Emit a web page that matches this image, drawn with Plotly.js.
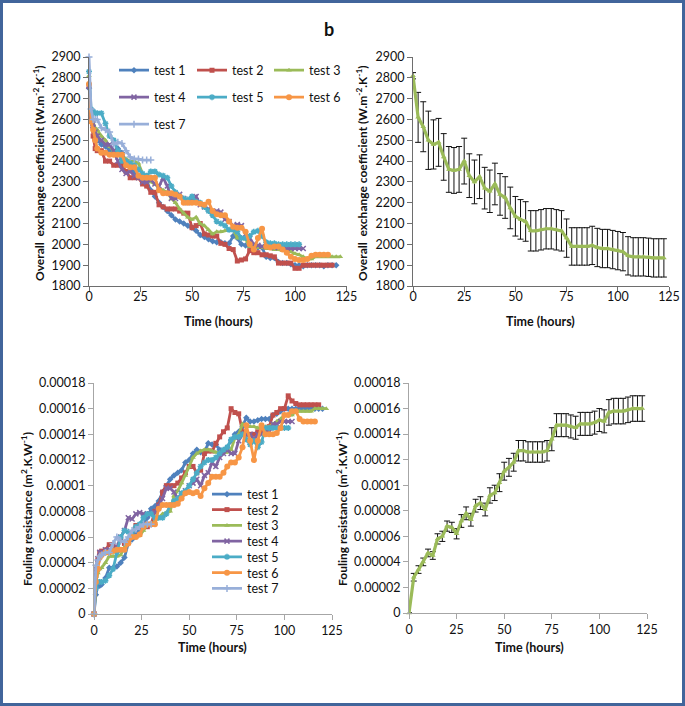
<!DOCTYPE html>
<html><head><meta charset="utf-8">
<script src="https://cdn.plot.ly/plotly-3.0.1.min.js"></script>
<style>
html,body{margin:0;padding:0;background:#fff;}
#wrap{position:relative;width:685px;height:706px;}
#chart{width:685px;height:706px;}
#frame{position:absolute;left:0;top:0;width:685px;height:706px;box-sizing:border-box;border:3px solid #41659b;pointer-events:none;}
</style>
</head><body>
<div id="wrap"><div id="chart"></div><div id="frame"></div></div>
<script>
// ---------- DATA ----------
const hoursFine = [0,1,2,3,4,6,8,10,12,14,16,18,20,22,24,26,28,30,32,34,36,38,40,42,44,46,48,50,52,54,56,58,60,62,64,66,68,70,72,74,76,78,80,82,84,86,88,90,92,94,96,98,100,102,104,106,108,110,112,114,116,118,120,122];
const hoursMean = [0,2.5,5,7.5,10,12.5,15,17.5,20,22.5,25,27.5,30,32.5,35,37.5,40,42.5,45,47.5,50,52.5,55,57.5,60,62.5,65,67.5,70,72.5,75,77.5,80,82.5,85,87.5,90,92.5,95,97.5,100,102.5,105,107.5,110,112.5,115,117.5,120,122.5];
const testNames = ['test 1','test 2','test 3','test 4','test 5','test 6','test 7'];

// Overall exchange coefficient (W.m-2.K-1)
const test1U = [2750,2620,2560,2520,2500, 2480,2470,2450,2440,2460,2440,2400,2370,2350,2330, 2320,2300,2260,2230,2200,2180,2160,2140,2120,2110, 2100,2090,2080,2065,2045,2035,2025,2015,2010,2010, 2005,2005,2040,2030,2000,1995,1990,1990,1985,1985, 1940,1935,1935,1915,1910,1910,1905,1900,1900,1895, 1900,1900,1900,1900,1895,1900,1900,1900];
const test2U = [2760,2600,2520,2460,2450, 2450,2400,2400,2380,2380,2380,2350,2320,2320,2320, 2290,2280,2250,2250,2190,2180,2170,2170,2170,2160, 2150,2150,2080,2090,2100,2050,2045,2040,2040,2005, 2000,1980,1975,1920,1925,1930,1970,1960,1960,1950, 1950,1945,1940,1910,1910,1910,1910,1885,1885,1900, 1900,1900,1900,1900,1900,1900,1900];
const test3U = [2810,2620,2580,2560,2550, 2520,2500,2470,2450,2440,2420,2410,2400,2400,2390, 2340,2320,2300,2290,2270,2260,2250,2220,2200,2170, 2150,2130,2120,2130,2100,2090,2070,2050,2060,2060, 2065,2070,2070,2030,2030,2025,1990,1990,1985,1985, 1980,1980,1975,1975,1970,1970,1965,1955,1950,1940, 1930,1930,1940,1940,1940,1940,1940,1940,1940];
const test4U = [2760,2620,2580,2540,2520, 2500,2480,2480,2450,2400,2360,2340,2350,2330,2320, 2300,2300,2310,2290,2280,2320,2280,2220,2220,2240, 2220,2200,2210,2230,2190,2180,2170,2150,2160,2155, 2120,2110,2090,2095,2090,2050,2030,2000,1995,1990, 1990,1990,1985,1985,1985,1980,1980,1980,1980,1980];
const test5U = [2830,2650,2640,2630,2630, 2630,2580,2520,2500,2450,2400,2400,2390,2380,2360, 2340,2330,2350,2350,2335,2330,2320,2280,2250,2230, 2220,2215,2230,2205,2200,2180,2160,2140,2110,2100, 2090,2070,2070,2060,2030,2030,2040,2060,2065,2040, 2010,2005,2005,2000,2000,2000,2000,2000,2000];
const test6U = [2770,2590,2550,2500,2460, 2440,2440,2430,2430,2430,2430,2380,2370,2370,2330, 2320,2320,2320,2320,2260,2245,2245,2245,2240,2230, 2200,2200,2200,2200,2195,2190,2205,2160,2145,2140, 2140,2110,2085,2080,2080,2060,2000,1975,2030,2075, 1990,1985,1990,1990,1975,1960,1940,1930,1925,1925, 1930,1945,1950,1950,1950,1950];
const test7U = [2900,2650,2600,2600,2600, 2560,2550,2540,2480,2490,2485,2450,2420,2410,2410, 2405,2405,2405];

// Fouling resistance (m2.K.W-1)
const test1R = [0,1.5e-5,2.2e-5,2.2e-5,2.3e-5, 2.8e-5,3.6e-5,3.6e-5,3.7e-5,4.0e-5,4.4e-5,5.5e-5,5.8e-5,6.2e-5,6.6e-5, 7.0e-5,7.5e-5,8.2e-5,8.4e-5,8.8e-5,9.5e-5,10.0e-5,10.5e-5,10.8e-5,11.0e-5, 11.2e-5,11.8e-5,12.0e-5,12.5e-5,12.8e-5,12.6e-5,12.6e-5,13.3e-5,13.2e-5,13.2e-5, 12.8e-5,12.6e-5,13.0e-5,13.5e-5,14.0e-5,14.2e-5,14.6e-5,15.3e-5,15.0e-5,15.0e-5, 15.1e-5,15.2e-5,15.2e-5,15.2e-5,15.5e-5,15.6e-5,15.8e-5,16.0e-5,16.0e-5,16.0e-5, 16.0e-5,16.0e-5,16.0e-5,16.0e-5,16.1e-5,16.0e-5,16.0e-5,16.0e-5];
const test2R = [0,3.0e-5,4.2e-5,4.8e-5,4.9e-5, 5.0e-5,5.4e-5,5.4e-5,5.0e-5,5.8e-5,5.5e-5,5.6e-5,6.2e-5,6.9e-5,6.8e-5, 6.8e-5,6.8e-5,7.0e-5,8.0e-5,8.5e-5,9.5e-5,10.0e-5,10.0e-5,10.0e-5,10.2e-5, 10.6e-5,11.0e-5,11.5e-5,11.5e-5,11.0e-5,11.2e-5,12.5e-5,12.7e-5,12.7e-5,13.3e-5, 13.8e-5,14.2e-5,14.5e-5,16.0e-5,15.7e-5,15.6e-5,14.2e-5,14.0e-5,14.0e-5,14.0e-5, 14.2e-5,14.2e-5,14.4e-5,14.6e-5,15.5e-5,15.7e-5,16.0e-5,16.0e-5,17.0e-5,16.6e-5, 16.4e-5,16.3e-5,16.3e-5,16.3e-5,16.3e-5,16.3e-5,16.3e-5];
const test3R = [0,2.5e-5,3.2e-5,3.5e-5,3.6e-5, 4.0e-5,4.5e-5,4.5e-5,4.5e-5,4.6e-5,5.2e-5,5.6e-5,6.0e-5,6.0e-5,6.1e-5, 6.5e-5,7.0e-5,7.0e-5,7.2e-5,7.5e-5,7.8e-5,7.9e-5,8.0e-5,9.2e-5,9.6e-5, 10.2e-5,10.8e-5,11.5e-5,12.2e-5,12.5e-5,12.7e-5,12.8e-5,12.8e-5,12.7e-5,12.6e-5, 12.6e-5,12.6e-5,12.6e-5,12.8e-5,13.7e-5,14.0e-5,14.8e-5,14.7e-5,14.6e-5,14.6e-5, 14.5e-5,14.5e-5,14.6e-5,14.6e-5,14.8e-5,15.0e-5,15.2e-5,15.5e-5,15.5e-5,15.5e-5, 15.8e-5,15.8e-5,15.8e-5,15.8e-5,15.8e-5,16.0e-5,16.0e-5,16.0e-5,16.0e-5];
const test4R = [0,3.5e-5,4.3e-5,4.8e-5,4.8e-5, 5.0e-5,5.0e-5,5.0e-5,5.2e-5,6.0e-5,6.5e-5,7.5e-5,7.4e-5,7.8e-5,7.9e-5, 7.8e-5,7.8e-5,7.8e-5,7.9e-5,8.4e-5,9.0e-5,9.8e-5,9.8e-5,9.5e-5,9.0e-5, 9.4e-5,9.6e-5,10.0e-5,10.2e-5,10.5e-5,10.0e-5,10.8e-5,11.0e-5,11.8e-5,11.5e-5, 12.2e-5,12.5e-5,12.8e-5,12.5e-5,12.5e-5,13.5e-5,14.0e-5,14.0e-5,14.0e-5,13.6e-5, 14.0e-5,14.0e-5,14.1e-5,14.2e-5,14.8e-5,14.8e-5,15.0e-5,15.0e-5,15.0e-5,15.0e-5];
const test5R = [0,2.0e-5,2.5e-5,2.5e-5,2.5e-5, 2.6e-5,3.0e-5,3.5e-5,4.8e-5,6.0e-5,6.5e-5,6.4e-5,6.2e-5,6.8e-5,7.0e-5, 7.5e-5,7.8e-5,7.8e-5,7.5e-5,7.5e-5,7.5e-5,7.8e-5,8.5e-5,8.8e-5,9.0e-5, 9.4e-5,9.6e-5,10.0e-5,10.5e-5,11.0e-5,11.5e-5,11.8e-5,12.0e-5,12.0e-5,12.2e-5, 12.5e-5,12.8e-5,13.0e-5,13.6e-5,13.8e-5,13.8e-5,14.0e-5,13.6e-5,13.2e-5,13.5e-5, 13.0e-5,13.4e-5,14.5e-5,14.5e-5,14.5e-5,14.5e-5,14.5e-5,14.5e-5,14.5e-5];
const test6R = [0,2.5e-5,3.5e-5,4.4e-5,4.6e-5, 4.8e-5,4.8e-5,4.9e-5,5.0e-5,5.0e-5,5.0e-5,5.5e-5,6.0e-5,6.0e-5,6.2e-5, 6.8e-5,7.0e-5,7.0e-5,7.0e-5,8.2e-5,8.5e-5,8.5e-5,8.5e-5,8.5e-5,8.6e-5, 9.0e-5,9.4e-5,9.5e-5,9.4e-5,9.5e-5,9.2e-5,9.8e-5,10.2e-5,10.7e-5,10.7e-5, 10.7e-5,11.0e-5,11.5e-5,11.8e-5,11.8e-5,12.2e-5,13.0e-5,14.7e-5,13.5e-5,12.0e-5, 13.5e-5,14.7e-5,14.0e-5,14.0e-5,14.0e-5,14.1e-5,14.5e-5,15.5e-5,15.5e-5,15.8e-5, 15.8e-5,15.2e-5,15.0e-5,15.0e-5,15.0e-5,15.0e-5];
const test7R = [0,3.8e-5,4.2e-5,4.5e-5,4.6e-5, 4.8e-5,4.8e-5,5.5e-5,6.0e-5,5.7e-5,5.6e-5,6.0e-5,6.5e-5,6.6e-5,6.8e-5, 7.0e-5,7.0e-5,7.0e-5];

// Mean of the tests with standard deviation
const meanU = [2810,2610,2565,2500,2480,2490,2420,2360,2355,2360, 2400,2330,2300,2325,2270,2255,2290,2240,2225,2175, 2135,2120,2110,2065,2065,2070,2075,2075,2070,2065, 2030,1990,1990,1990,1990,1995,1985,1980,1980,1975, 1970,1965,1945,1940,1940,1940,1938,1935,1935,1935];
const meanUErr = [15,120,120,140,118,115,112,110,110,110, 110,105,105,105,100,102,100,100,100,100, 95,95,95,97,97,97,97,97,97,97, 92,90,90,90,90,92,92,92,92,92, 92,92,92,92,92,92,92,92,92,92];
const meanR = [0,2.8e-5,3.4e-5,4.0e-5,4.7e-5,4.5e-5,5.8e-5,6.0e-5,6.8e-5,6.7e-5, 6.2e-5,7.2e-5,7.8e-5,7.3e-5,8.4e-5,8.6e-5,8.1e-5,9.2e-5,9.4e-5,10.2e-5, 11.1e-5,11.4e-5,11.8e-5,12.7e-5,12.7e-5,12.6e-5,12.6e-5,12.6e-5,12.6e-5,12.7e-5, 13.6e-5,14.7e-5,14.7e-5,14.7e-5,14.6e-5,14.5e-5,14.8e-5,14.8e-5,14.8e-5,14.9e-5, 15.1e-5,15.0e-5,15.7e-5,15.8e-5,15.8e-5,15.8e-5,15.9e-5,16.0e-5,16.0e-5,16.0e-5];
const meanRErr = [0,3e-6,3e-6,3e-6,3e-6,3e-6,4e-6,4e-6,4e-6,4e-6, 4e-6,5e-6,5e-6,5e-6,5e-6,5e-6,5e-6,6e-6,6e-6,7e-6, 7e-6,7e-6,7e-6,8e-6,8e-6,8e-6,8e-6,8e-6,8e-6,8e-6, 9e-6,9e-6,9e-6,9e-6,9e-6,9e-6,9e-6,9e-6,9e-6,9e-6, 9e-6,9e-6,10e-6,10e-6,10e-6,10e-6,10e-6,10e-6,10e-6,10e-6];

// Ticks
const hourTicks = [0,25,50,75,100,125];
const coefTicks = [1800,1900,2000,2100,2200,2300,2400,2500,2600,2700,2800,2900];
const resTicks = [0,0.00002,0.00004,0.00006,0.00008,0.0001,0.00012,0.00014,0.00016,0.00018];
const resTickText = ['0','0.00002','0.00004','0.00006','0.00008','0.0001','0.00012','0.00014','0.00016','0.00018'];

// ---------- STYLE ----------
const W = 685, H = 706;
const FONT = 'Lato, "Liberation Sans", sans-serif';
const colors = ['#4F81BD','#C0504D','#9BBB59','#8064A2','#4BACC6','#F79646','#98AFD9'];
const symbols = ['diamond','square','triangle-up','x-thin-open','asterisk-open','circle','cross-thin-open'];
const msize = [5,5,5,5,5,6,5];
const seriesU = [test1U,test2U,test3U,test4U,test5U,test6U,test7U];
const seriesR = [test1R,test2R,test3R,test4R,test5R,test6R,test7R];

function px(x){return x/W;}
function py(y){return 1-y/H;}

function marker(i){
  const open = symbols[i].indexOf('open')>=0;
  return {symbol:symbols[i], size:msize[i], color:colors[i],
          line:{color:colors[i], width: open?1.5:0}};
}

const traces = [];
const legIdsTop = ['legend','legend2','legend3','legend4','legend5','legend6','legend7'];
const legIdsBot = ['legend8','legend9','legend10','legend11','legend12','legend13','legend14'];
seriesU.forEach((s,i)=>{
  traces.push({type:'scatter', mode:'lines+markers', name:testNames[i],
    x: hoursFine.slice(0,s.length), y:s, xaxis:'x', yaxis:'y',
    line:{color:colors[i], width:2.8}, marker:marker(i), cliponaxis:false,
    legend: legIdsTop[i]});
});
traces.push({type:'scatter', mode:'lines+markers', name:'mean', showlegend:false,
  x:hoursMean, y:meanU, xaxis:'x2', yaxis:'y2', cliponaxis:false,
  line:{color:'#9BBB59', width:3.2}, marker:{symbol:'triangle-up', size:5, color:'#9BBB59'},
  error_y:{type:'data', array:meanUErr, visible:true, color:'#111', thickness:1, width:3}});
seriesR.forEach((s,i)=>{
  traces.push({type:'scatter', mode:'lines+markers', name:testNames[i],
    x: hoursFine.slice(0,s.length), y:s, xaxis:'x3', yaxis:'y3',
    line:{color:colors[i], width:2.8}, marker:marker(i), cliponaxis:false,
    legend: legIdsBot[i]});
});
traces.push({type:'scatter', mode:'lines+markers', name:'mean', showlegend:false,
  x:hoursMean, y:meanR, xaxis:'x4', yaxis:'y4', cliponaxis:false,
  line:{color:'#9BBB59', width:3.2}, marker:{symbol:'triangle-up', size:5, color:'#9BBB59'},
  error_y:{type:'data', array:meanRErr, visible:true, color:'#111', thickness:1, width:3}});

function axis(extra, lc){
  return Object.assign({showline:true, linecolor:lc, linewidth:1, ticks:'outside', ticklen:5,
    tickcolor:lc, tickwidth:1, showgrid:false, zeroline:false, fixedrange:true,
    tickfont:{family:FONT, size:12.5, color:'#111'}, automargin:false}, extra);
}
const topLC = '#6e6e6e', botLC = '#a6a6a6';

function leg(left, cy){
  return {x:px(left), y:py(cy-14.5), xanchor:'left', yanchor:'top', orientation:'v',
    bgcolor:'rgba(0,0,0,0)', borderwidth:0, font:{family:FONT, size:12.5, color:'#111'}};
}

function ann(text, x, y, angle, size){
  return {text:text, xref:'paper', yref:'paper', x:px(x), y:py(y), xanchor:'center', yanchor:'middle',
    showarrow:false, textangle:angle||0, font:{family:FONT, size:size||12, color:'#111'}};
}
const yTitleTop = '<b>Overall\u00a0\u00a0exchange coefficient (W.m<sup>-2</sup>.K<sup>-1</sup>)</b>';
const yTitleBot = '<b>Fouling resistance (m<sup>2</sup>.K.W<sup>-1</sup>)</b>';

const layout = {
  width:W, height:H, margin:{l:0,r:0,t:0,b:0}, paper_bgcolor:'#fff', plot_bgcolor:'rgba(0,0,0,0)',
  font:{family:FONT, size:12, color:'#111'},
  xaxis: axis({domain:[px(89),px(346.5)], range:[0,125], tickvals:hourTicks, anchor:'y', ticklabelstandoff:-6}, topLC),
  yaxis: axis({domain:[py(286),py(57)], range:[1800,2900], tickvals:coefTicks, anchor:'x'}, topLC),
  xaxis2: axis({domain:[px(413),px(669)], range:[0,125], tickvals:hourTicks, anchor:'y2', ticklabelstandoff:-6}, topLC),
  yaxis2: axis({domain:[py(286),py(57)], range:[1800,2900], tickvals:coefTicks, anchor:'x2'}, topLC),
  xaxis3: axis({domain:[px(94),px(332)], range:[0,125], tickvals:hourTicks, anchor:'y3'}, botLC),
  yaxis3: axis({domain:[py(614),py(383)], range:[0,0.00018], tickvals:resTicks, ticktext:resTickText, anchor:'x3'}, botLC),
  xaxis4: axis({domain:[px(409),px(647)], range:[0,125], tickvals:hourTicks, anchor:'y4'}, botLC),
  yaxis4: axis({domain:[py(613),py(383)], range:[0,0.00018], tickvals:resTicks, ticktext:resTickText, anchor:'x4'}, botLC),
  legend: leg(114,70), legend2: leg(192,70), legend3: leg(269,70),
  legend4: leg(114,97), legend5: leg(192,97), legend6: leg(269,97), legend7: leg(114,124),
  legend8: leg(207,494), legend9: leg(207,509.5), legend10: leg(207,525.3), legend11: leg(207,541),
  legend12: leg(207,556.7), legend13: leg(207,572.5), legend14: leg(207,588.3),
  annotations:[
    ann('<b>b</b>', 329, 29, 0, 18),
    ann('<b>Time (hours)</b>', 218, 322, 0, 12.5),
    ann('<b>Time (hours)</b>', 540, 322, 0, 12.5),
    ann('<b>Time (hours)</b>', 213, 647, 0, 12.5),
    ann('<b>Time (hours)</b>', 529, 647, 0, 12.5),
    ann(yTitleTop, 39, 173, -90),
    ann(yTitleTop, 362, 173, -90),
    ann(yTitleBot, 27, 509, -90),
    ann(yTitleBot, 342, 509, -90)
  ]
};

Plotly.newPlot('chart', traces, layout, {displayModeBar:false, staticPlot:true});
</script>
</body></html>
